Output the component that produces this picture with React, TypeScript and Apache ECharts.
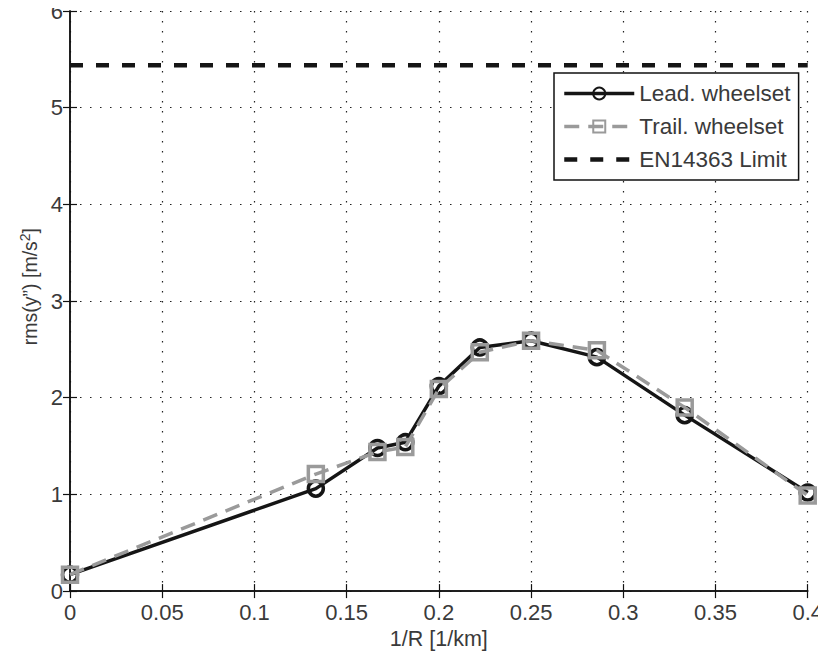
import React, { useEffect, useRef } from "react";
import * as echarts from "echarts";

const xValues = [0, 0.1333, 0.1667, 0.1818, 0.2, 0.2222, 0.25, 0.2857, 0.3333, 0.4];
const leadValues = [0.17, 1.06, 1.48, 1.54, 2.12, 2.52, 2.59, 2.42, 1.82, 1.02];
const trailValues = [0.17, 1.21, 1.44, 1.49, 2.09, 2.47, 2.59, 2.49, 1.9, 0.99];
const limitValue = 5.44;
const xRange = [0, 0.4];
const yRange = [0, 6];

const FONT = "'Liberation Sans', Arial, Helvetica, sans-serif";
const TXT = "#3a3a3a";

export default function App() {
  const ref = useRef<HTMLDivElement>(null);
  useEffect(() => {
    if (!ref.current) return;
    const chart = echarts.init(ref.current, undefined, { renderer: "svg" });
    const lead = xValues.map((x, i) => [x, leadValues[i]]);
    const trail = xValues.map((x, i) => [x, trailValues[i]]);
    const limit = [
      [xRange[0], limitValue],
      [xRange[1], limitValue],
    ];
    const axisLine = { show: true, lineStyle: { color: "#111", width: 1.5 } };
    const tick = { show: true, inside: true, length: 7, lineStyle: { color: "#111", width: 1.2 } };
    const split = { show: true, lineStyle: { color: "#222", width: 1.2, type: [1.5, 8.5] } };
    chart.setOption({
      animation: false,
      backgroundColor: "#fff",
      textStyle: { fontFamily: FONT },
      grid: { left: 70, right: 18, top: 11, bottom: 63 },
      legend: {
        orient: "vertical",
        left: 554,
        top: 73,
        padding: [9, 8, 9, 8],
        itemWidth: 70,
        itemHeight: 15,
        itemGap: 10,
        borderColor: "#111",
        borderWidth: 1.5,
        borderRadius: 0,
        backgroundColor: "#fff",
        textStyle: { fontFamily: FONT, fontSize: 22.5, color: TXT },
        data: [
          { name: "Lead. wheelset", lineStyle: { width: 3.5 } },
          { name: "Trail. wheelset", lineStyle: { width: 3.5 } },
          { name: "EN14363 Limit", lineStyle: { width: 4.5 } },
        ],
      },
      xAxis: [
        {
          type: "value",
          min: xRange[0],
          max: xRange[1],
          interval: 0.05,
          axisLine,
          axisTick: tick,
          splitLine: split,
          axisLabel: { fontFamily: FONT, fontSize: 22, color: TXT, margin: 10 },
          name: "1/R [1/km]",
          nameLocation: "middle",
          nameGap: 34,
          nameTextStyle: { fontFamily: FONT, fontSize: 21.5, color: TXT },
        },
        {
          type: "value",
          position: "top",
          min: xRange[0],
          max: xRange[1],
          interval: 0.05,
          axisLine,
          axisTick: tick,
          splitLine: { show: false },
          axisLabel: { show: false },
        },
      ],
      yAxis: [
        {
          type: "value",
          min: yRange[0],
          max: yRange[1],
          interval: 1,
          axisLine,
          axisTick: tick,
          splitLine: split,
          axisLabel: { fontFamily: FONT, fontSize: 22, color: TXT, margin: 7 },
          name: "{n|rms(y”) [m/s}{sup|2}{n|]}",
          nameLocation: "middle",
          nameGap: 27,
          nameTextStyle: {
            fontFamily: FONT,
            fontSize: 19.5,
            color: TXT,
            padding: [0, 0, 0, 29],
            rich: {
              n: { fontFamily: FONT, fontSize: 19.5, color: TXT },
              sup: { fontFamily: FONT, fontSize: 14, color: TXT, verticalAlign: "top", padding: [0, 0, 10, 0] },
            },
          },
        },
        {
          type: "value",
          position: "right",
          min: yRange[0],
          max: yRange[1],
          interval: 1,
          axisLine,
          axisTick: tick,
          splitLine: { show: false },
          axisLabel: { show: false },
        },
      ],
      series: [
        {
          name: "Lead. wheelset",
          type: "line",
          data: lead,
          symbol: "circle",
          symbolSize: 15,
          lineStyle: { color: "#151515", width: 3.5 },
          itemStyle: { color: "rgba(0,0,0,0)", borderColor: "#151515", borderWidth: 3.5 },
          z: 3,
        },
        {
          name: "Trail. wheelset",
          type: "line",
          data: trail,
          symbol: "rect",
          symbolSize: 15,
          lineStyle: { color: "#9a9a9a", width: 3.5, type: [15, 9] },
          itemStyle: { color: "rgba(0,0,0,0)", borderColor: "#9a9a9a", borderWidth: 3.5 },
          z: 4,
        },
        {
          name: "EN14363 Limit",
          type: "line",
          data: limit,
          symbol: "none",
          lineStyle: { color: "#151515", width: 4.5, type: [13, 13] },
          itemStyle: { color: "rgba(0,0,0,0)", borderColor: "rgba(0,0,0,0)" },
          z: 2,
        },
      ],
    });
    return () => chart.dispose();
  }, []);
  return <div ref={ref} style={{ width: 826, height: 655, marginLeft: -8, marginTop: -8 }} />;
}
